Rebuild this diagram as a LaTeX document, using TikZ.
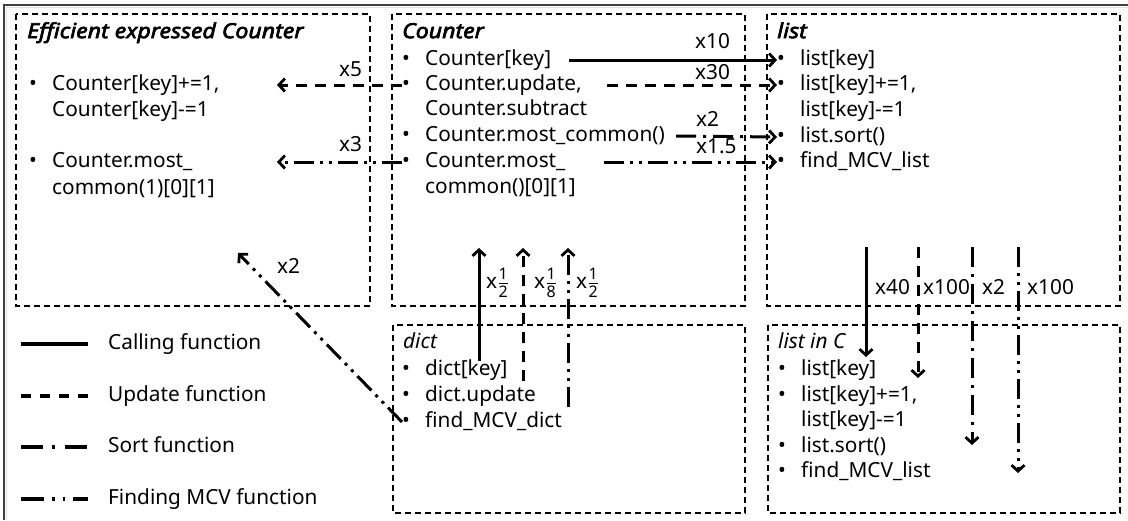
\documentclass[tikz,border=0pt]{standalone}
\usepackage{fontspec}
\setmainfont{Noto Sans}
\newfontfamily\ttlfont{Noto Sans}[FakeBold=3, FakeStretch=1.11]
\usetikzlibrary{arrows.meta,calc}
\newcommand\itm[1]{\makebox[23pt][l]{•}#1}
\newcommand\xfr[2]{x\kern1.5pt\raisebox{-9.5pt}{\fontsize{16}{16}\selectfont\vbox{\hbox to 9pt{\hss #1\hss}\kern2.6pt\hrule height 0.8pt\kern2.6pt\hbox to 9pt{\hss #2\hss}}}}
\begin{document}
\begin{tikzpicture}[x=1pt,y=-1pt,
  every node/.style={inner sep=0pt, font=\fontsize{20.8}{24}\selectfont},
  hd/.style={text height=15pt, text depth=4.7pt},
  txt/.style={hd, anchor=west},
  ttl/.style={hd, anchor=west, font=\fontsize{20.8}{24}\selectfont\ttlfont\itshape},
  ittl/.style={hd, anchor=west, font=\fontsize{20.8}{24}\selectfont\itshape},
  lbl/.style={hd, anchor=west},
  boxd/.style={draw, line width=1.5pt, dash pattern=on 6pt off 4pt},
  tip/.style={-{Straight Barb[length=6pt,width=13pt,line width=2.8pt]}},
  call/.style={line width=3pt},
  upd/.style={line width=3pt, dash pattern=on 11pt off 8pt},
  sortl/.style={line width=3pt, dash pattern=on 20pt off 7pt on 3pt off 7pt},
  mcv/.style={line width=3pt, dash pattern=on 20pt off 6pt on 3pt off 6pt on 3pt off 6pt},
]
\useasboundingbox (0,0) rectangle (1128,520);
\fill[white] (0,0) rectangle (1128,520);
% outer frame
\draw[gray!25, line width=1.2pt] (6.5,520) -- (6.5,7.5) -- (1128,7.5);
\draw[black!75, line width=1.3pt] (4,520) -- (4,5) -- (1128,5);

% boxes
\draw[boxd] (16,14) rectangle (370,306);
\draw[boxd] (392,14) rectangle (745,306);
\draw[boxd] (767,14) rectangle (1120,306);
\draw[boxd] (393,325) rectangle (745,513);
\draw[boxd] (768,325) rectangle (1120,513);

% box A
\node[ttl] (tA) at (27,33) {Efficient expressed Counter};
\node[txt] (a1) at (29,85) {\itm{Counter[key]+=1,}};
\node[txt] (a1b) at (52,111) {Counter[key]-=1};
\node[txt] (a2) at (29,162) {\itm{Counter.most\_}};
\node[txt] (a2b) at (52,189) {common(1)[0][1]};

% box B
\node[ttl] (tB) at (402,33) {Counter};
\node[txt] (b1) at (402,60) {\itm{Counter[key]}};
\node[txt] (b2) at (402,85) {\itm{Counter.update,}};
\node[txt] (b2b) at (425,110) {Counter.subtract};
\node[txt] (b3) at (402,136) {\itm{Counter.most\_common()}};
\node[txt] (b4) at (402,162) {\itm{Counter.most\_}};
\node[txt] (b4b) at (425,188) {common()[0][1]};

% box C
\node[ttl] (tC) at (777,33) {list};
\node[txt] (c1) at (777,60) {\itm{list[key]}};
\node[txt] (c2) at (777,85) {\itm{list[key]+=1,}};
\node[txt] (c2b) at (800,111) {list[key]-=1};
\node[txt] (c3) at (777,137) {\itm{list.sort()}};
\node[txt] (c4) at (777,162) {\itm{find\_MCV\_list}};

% box D
\node[ittl] (tD) at (403,343) {dict};
\node[txt] (d1) at (402,370) {\itm{dict[key]}};
\node[txt] (d2) at (402,396) {\itm{dict.update}};
\node[txt] (d3) at (402,422) {\itm{find\_MCV\_dict}};

% box E
\node[ittl] (tE) at (778,343) {list in C};
\node[txt] (e1) at (778,370) {\itm{list[key]}};
\node[txt] (e2) at (778,396) {\itm{list[key]+=1,}};
\node[txt] (e2b) at (801,421) {list[key]-=1};
\node[txt] (e3) at (778,447) {\itm{list.sort()}};
\node[txt] (e4) at (778,472) {\itm{find\_MCV\_list}};

% legend
\node[txt] (L1) at (108,344) {Calling function};
\node[txt] (L2) at (108,396) {Update function};
\node[txt] (L3) at (108,447) {Sort function};
\node[txt] (L4) at (108,499) {Finding MCV function};
\draw[call, line width=3.2pt] ([xshift=-87pt]L1.west) -- ([xshift=-20pt]L1.west);
\draw[upd, line width=3.2pt, dash pattern=on 10pt off 9pt] ([xshift=-87pt]L2.west) -- ([xshift=-20pt]L2.west);
\draw[sortl, line width=3.2pt, dash pattern=on 22pt off 9pt on 3pt off 10pt] ([xshift=-87pt]L3.west) -- ([xshift=-20pt]L3.west);
\draw[mcv, line width=3.2pt, dash pattern=on 23pt off 8pt on 2.5pt off 8pt on 2.5pt off 8pt] ([xshift=-87pt]L4.west) -- ([xshift=-20pt]L4.west);

% free ends
\coordinate (ax5) at (277,85);
\coordinate (ax3) at (277,162);
\coordinate (dg) at (238,253);
\coordinate (u1s) at (479,361); \coordinate (u1e) at (479,248);
\coordinate (u2s) at (523,381); \coordinate (u2e) at (523,248);
\coordinate (u3s) at (568,407); \coordinate (u3e) at (568,248);
\coordinate (v1s) at (866,247); \coordinate (v1e) at (866,357);
\coordinate (v2s) at (918,247); \coordinate (v2e) at (918,378);
\coordinate (v3s) at (972,247); \coordinate (v3e) at (972,445);
\coordinate (v4s) at (1018,247); \coordinate (v4e) at (1018,473);

% arrows Counter -> list
\draw[call,tip] ([xshift=18pt]b1.east) -- (c1.west);
\draw[upd,tip] ([xshift=25pt]b2.east) -- (c2.west);
\draw[sortl,tip] ([xshift=11pt]b3.east) -- (c3.west);
\draw[mcv,tip] ([xshift=38pt]b4.east) -- (c4.west);
% Counter -> efficient
\draw[upd,tip] (b2.west) -- (ax5);
\draw[mcv,tip] (b4.west) -- (ax3);
% dict -> efficient
\draw[mcv,tip] (d3.west) -- (dg);
% dict -> Counter
\draw[call,tip] (u1s) -- (u1e);
\draw[upd,tip] (u2s) -- (u2e);
\draw[mcv,tip] (u3s) -- (u3e);
% list -> list in C
\draw[call,tip] (v1s) -- (v1e);
\draw[upd,tip] (v2s) -- (v2e);
\draw[sortl,tip] (v3s) -- (v3e);
\draw[mcv,tip] (v4s) -- (v4e);

% labels
\node[lbl] (l10) at (695,43) {x10};
\node[lbl] (l30) at (695,74) {x30};
\node[lbl] (l2a) at (696,121) {x2};
\node[lbl] (l15) at (696,148) {x1.5};
\node[lbl] (l5) at (339,71) {x5};
\node[lbl] (l3) at (339,146) {x3};
\node[lbl] (l2d) at (277,268) {x2};
\node[lbl] (l40) at (875,289) {x40};
\node[lbl] (l100a) at (923,289) {x100};
\node[lbl] (l2b) at (982,289) {x2};
\node[lbl] (l100b) at (1027,289) {x100};
\node[anchor=base west] (f1) at (486,288) {\xfr{1}{2}};
\node[anchor=base west] (f2) at (534,288) {\xfr{1}{8}};
\node[anchor=base west] (f3) at (576,288) {\xfr{1}{2}};
\end{tikzpicture}
\end{document}
